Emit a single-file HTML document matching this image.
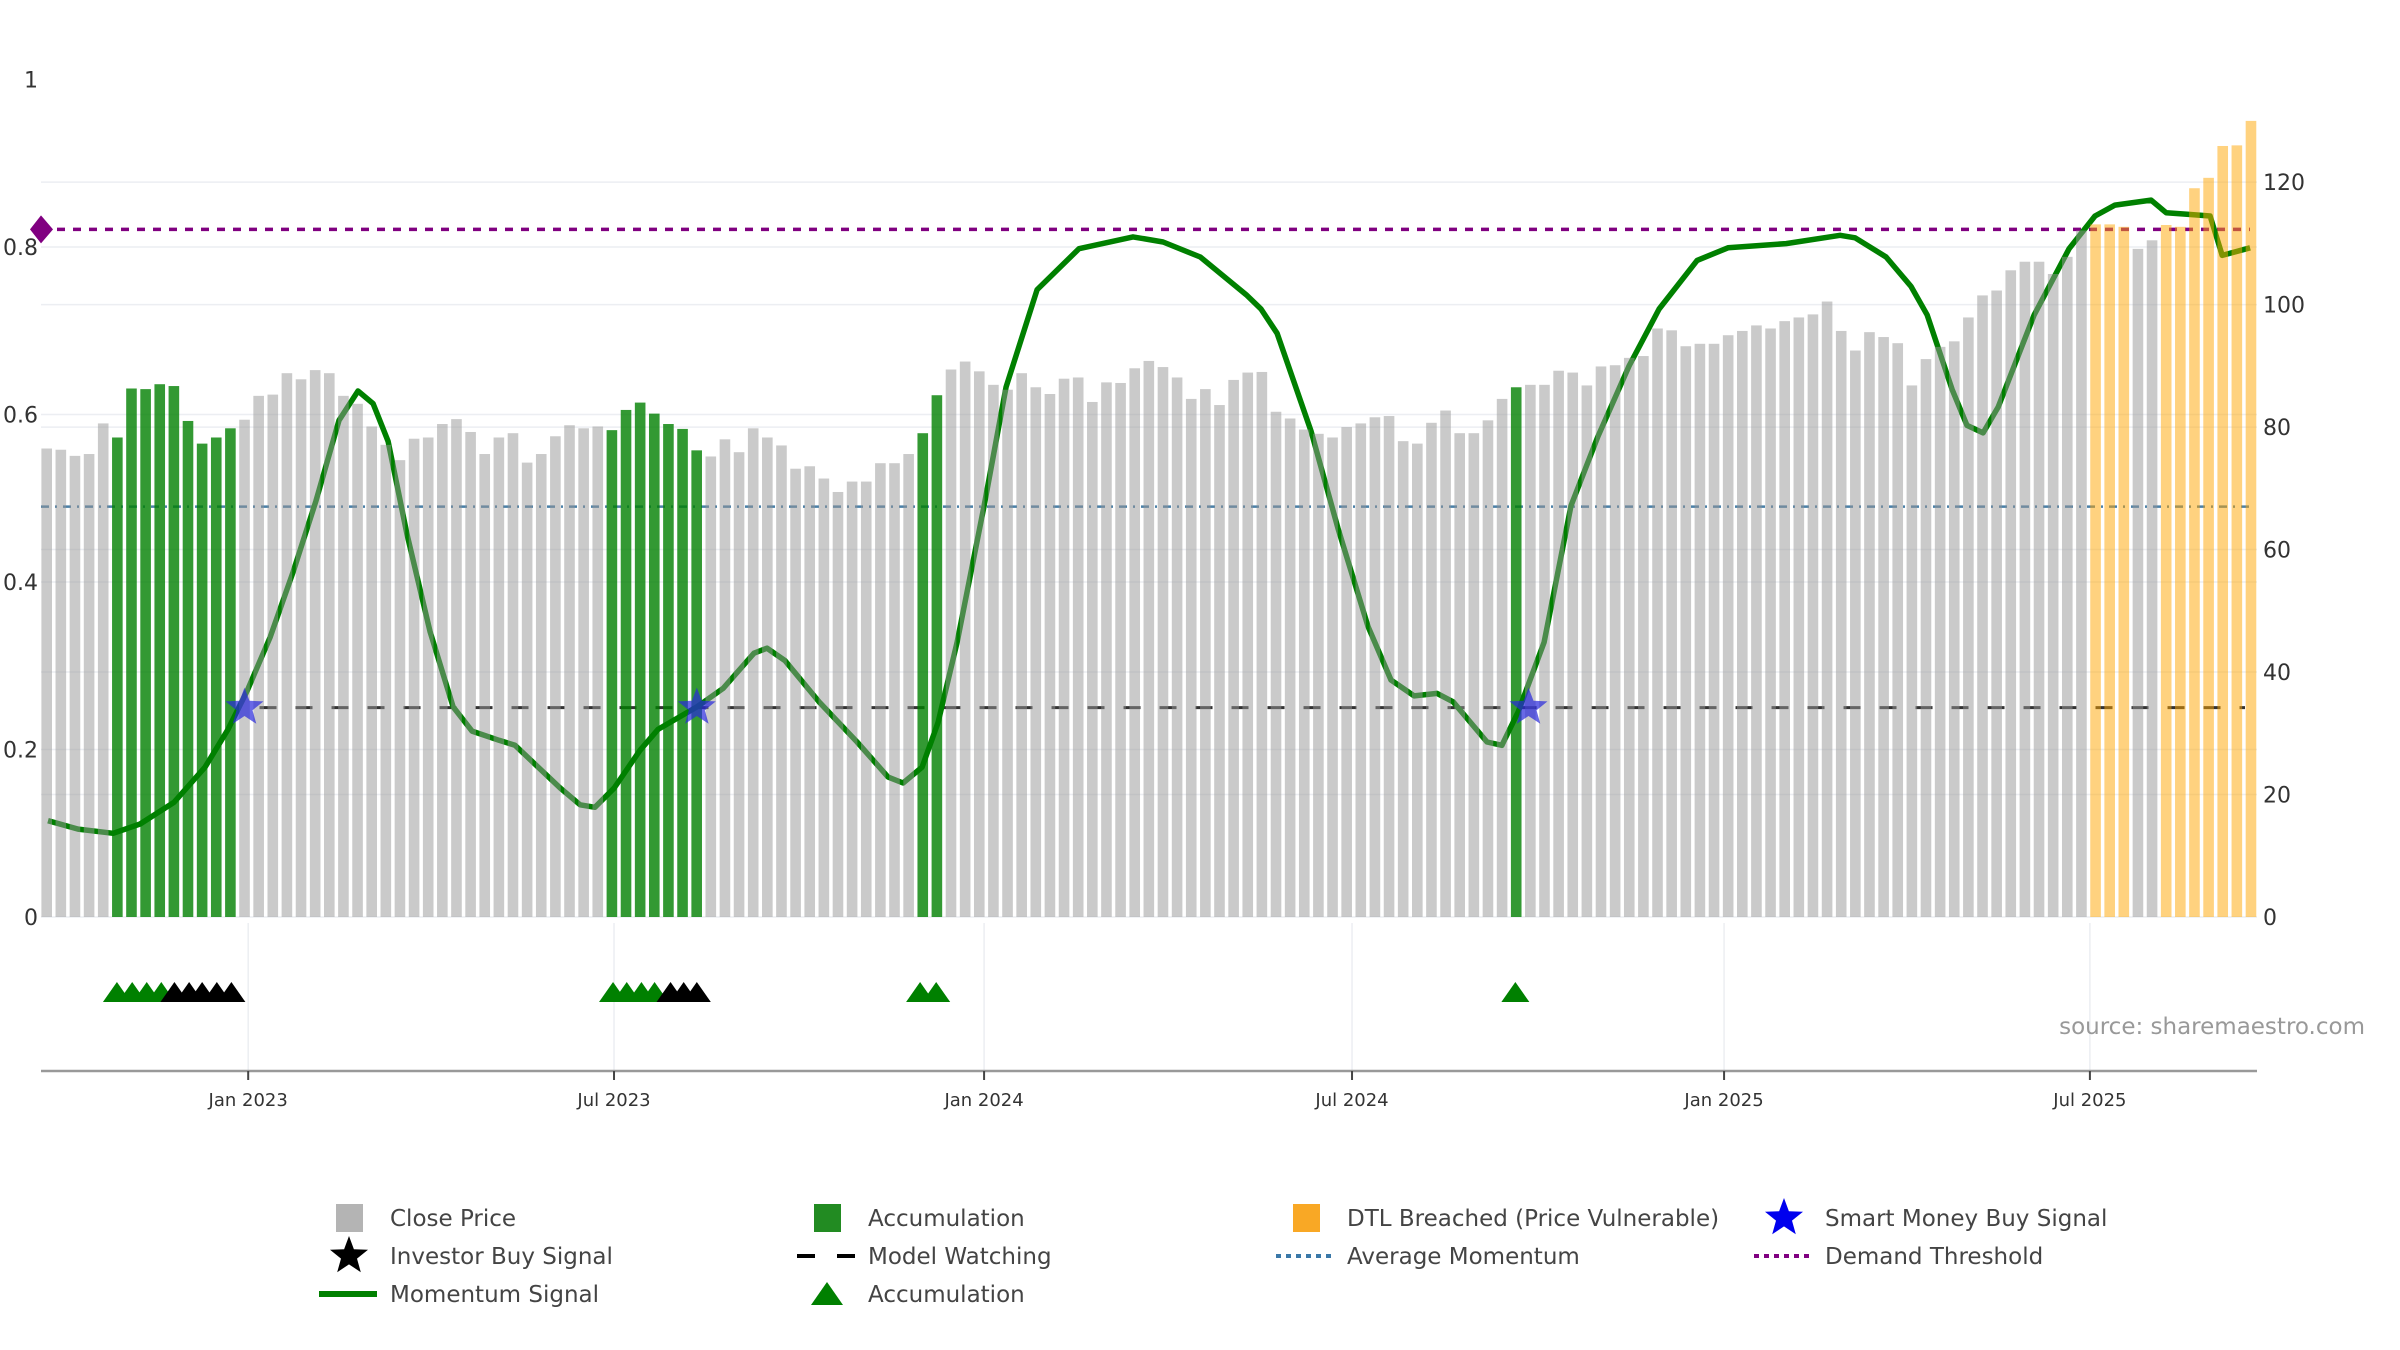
<!DOCTYPE html>
<html><head><meta charset="utf-8">
<style>
html,body{margin:0;padding:0;background:#fff;}
svg{display:block;font-family:"DejaVu Sans","Liberation Sans",sans-serif;}
</style></head>
<body>
<svg id="chart" width="2400" height="1350" viewBox="0 0 2400 1350" xmlns="http://www.w3.org/2000/svg">
<rect x="0" y="0" width="2400" height="1350" fill="#fff"/>
<g id="grid"></g><g id="lines"></g><g id="bars"></g><g id="marks"></g><g id="axes"></g>
<text x="2365" y="1034" text-anchor="end" font-size="23" fill="#999">source: sharemaestro.com</text>
<g id="legend"></g>
</svg>
<script>
const prices=[76.5,76.3,75.3,75.6,80.6,78.3,86.3,86.2,87,86.7,81,77.3,78.3,79.8,81.2,85.1,85.3,88.8,87.8,89.3,88.8,85.1,83.8,80.1,77.1,74.6,78.1,78.3,80.5,81.3,79.2,75.6,78.3,79,
74.2,75.6,78.5,80.3,79.8,80.1,79.5,82.8,84,82.2,80.5,79.7,76.2,75.2,78,75.9,79.8,78.3,77,73.2,73.6,71.6,69.4,71.1,71.1,74.1,74.1,75.6,79,85.2,89.4,90.7,89.1,
86.9,86.1,88.8,86.5,85.4,87.9,88.1,84.1,87.3,87.2,89.6,90.8,89.8,88.1,84.6,86.2,83.6,87.7,88.9,89,82.5,81.4,79.6,78.9,78.3,80,80.6,81.6,81.8,77.7,77.3,80.7,82.7,79,
79,81.1,84.6,86.5,86.9,86.9,89.2,88.9,86.8,89.9,90.1,91.3,91.6,96.1,95.8,93.2,93.6,93.6,95,95.7,96.6,96.1,97.3,97.9,98.4,100.5,95.7,92.5,95.5,94.7,93.7,86.8,91.1,
93.1,94,97.9,101.5,102.3,105.6,107,107,105,107.8,112.1,113.1,113.1,112.7,109.1,110.5,113,112.7,119,120.7,125.9,126,130];
const accumBars=[5,6,7,8,9,10,11,12,13,40,41,42,43,44,45,46,62,63,104];
const dtlBars=[145,146,147,150,151,152,153,154,155,156];
const momIdx=[0.09,2.22,4.7,6.61,9.01,11.21,12.83,14.18,15.81,17.44,19.06,20.69,22.03,23.1,24.16,25.5,27.13,28.76,30.1,32.02,33.14,34.78,36.34,37.75,38.8,40.16,41.99,43.26,46.03,47.87,50.06,50.98,52.26,54.66,57.35,59.55,60.61,61.95,63.08,64.43,66.34,67.9,70.09,73.06,76.88,79.01,81.64,84.89,85.94,87.08,89.48,91.39,93.51,95.14,96.77,98.4,99.53,101.93,102.99,104.14,105.97,107.88,109.79,111.99,114.11,116.8,118.99,123.1,126.92,127.98,130.18,131.94,133.08,134.85,135.9,137.04,138.11,140.66,143.13,144.96,146.38,148.93,149.99,151.48,153.11,153.96,155.94];
const momVal=[0.115,0.105,0.1,0.111,0.137,0.179,0.224,0.27,0.334,0.412,0.497,0.593,0.628,0.613,0.568,0.457,0.341,0.251,0.222,0.211,0.205,0.179,0.154,0.134,0.131,0.154,0.199,0.224,0.251,0.273,0.315,0.321,0.306,0.257,0.209,0.167,0.16,0.179,0.232,0.328,0.491,0.633,0.749,0.798,0.812,0.806,0.788,0.743,0.726,0.697,0.58,0.464,0.347,0.283,0.264,0.267,0.257,0.209,0.205,0.245,0.328,0.491,0.574,0.658,0.726,0.784,0.799,0.804,0.814,0.811,0.788,0.753,0.719,0.63,0.587,0.578,0.609,0.719,0.798,0.837,0.85,0.856,0.841,0.839,0.837,0.79,0.799];
const greenTri=[4.97,6.05,7.08,8.11,40.08,41.05,42.09,43.02,61.81,62.95,103.94];
const blackTri=[9.04,10.08,11.0,12.04,13.07,44.15,45.08,46.01];
const starIdx=[14.0,46.01,104.87];
const demandThreshold=0.821, avgMomentum=0.49, modelWatching=0.25;
const leftTicks=[0,0.2,0.4,0.6,0.8,1];
const leftTickLabels=["0","0.2","0.4","0.6","0.8","1"];
const rightTicks=[0,20,40,60,80,100,120];
const dateTickIdx=[14.26,40.15,66.34,92.38,118.71,144.6];
const dateTickLabels=["Jan 2023","Jul 2023","Jan 2024","Jul 2024","Jan 2025","Jul 2025"];

const NS="http://www.w3.org/2000/svg";
const X=i=>46.7+14.13*i;
const YL=p=>917-837.5*p;
const YR=v=>917-6.124*v;
function mk(tag,attrs,parent){const e=document.createElementNS(NS,tag);for(const k in attrs)e.setAttribute(k,attrs[k]);document.getElementById(parent).appendChild(e);return e;}
const L=41,R=2257;
leftTicks.forEach(t=>{if(t>0&&t<1){const g=mk('line',{x1:L,x2:R,y1:YL(t),y2:YL(t),stroke:'#eceef2','stroke-width':1.5},'grid');

}});
rightTicks.forEach(t=>{const g=mk('line',{x1:L,x2:R,y1:YR(t),y2:YR(t),stroke:'#eceef2','stroke-width':1.5},'grid');

});
dateTickIdx.forEach(t=>{const g=mk('line',{x1:X(t),x2:X(t),y1:923,y2:1071,stroke:'#eceef2','stroke-width':1.5},'grid');

});
let e=mk('line',{x1:L,x2:2250,y1:YL(demandThreshold),y2:YL(demandThreshold),stroke:'#800080','stroke-width':3.5,'stroke-dasharray':'8,8'},'lines');


e=mk('line',{x1:L,x2:2250,y1:YL(avgMomentum),y2:YL(avgMomentum),stroke:'#4a80a8','stroke-width':2.5,'stroke-dasharray':'8,6,2,6'},'lines');


e=mk('line',{x1:X(starIdx[0])+15,x2:2245,y1:YL(modelWatching),y2:YL(modelWatching),stroke:'#333','stroke-width':3,'stroke-dasharray':'17,19'},'lines');


let d=momIdx.map((t,k)=>(k?'L':'M')+X(t).toFixed(1)+','+YL(momVal[k]).toFixed(1)).join(' ');
e=mk('path',{d:d,fill:'none',stroke:'#008000','stroke-width':5.5,'stroke-linejoin':'round'},'lines');


prices.forEach((v,i)=>{let c='rgba(150,150,150,0.5)',n='close-price-bar';
if(accumBars.includes(i)){c='rgba(0,128,0,0.8)';n='accumulation-bar';}
else if(dtlBars.includes(i)){c='rgba(255,165,0,0.5)';n='dtl-breached-bar';}
const b=mk('rect',{x:X(i)-5.3,y:YR(v),width:10.6,height:YR(0)-YR(v),fill:c},'bars');

});
const dy=YL(demandThreshold);
e=mk('path',{d:`M${L-11},${dy} L${L},${dy-14} L${L+12},${dy} L${L},${dy+14} Z`,fill:'#800080'},'marks');


function starPath(cx,cy,r){let s='';for(let k=0;k<10;k++){const rr=k%2?r*0.42:r;const a=-Math.PI/2+k*Math.PI/5;s+=(k?'L':'M')+(cx+rr*Math.cos(a)).toFixed(1)+','+(cy+rr*Math.sin(a)).toFixed(1);}return s+'Z';}
starIdx.forEach(t=>{const s=mk('path',{d:starPath(X(t),YL(modelWatching),20),fill:'rgba(40,40,220,0.7)'},'marks');

});
function tri(t,col,nm){const x=X(t);const s=mk('path',{d:`M${x-14},1002 L${x},982 L${x+14},1002 Z`,fill:col},'marks');

}
greenTri.forEach(t=>tri(t,'#008000','accumulation-triangle'));
blackTri.forEach(t=>tri(t,'#000','investor-buy-triangle'));
e=mk('line',{x1:L,x2:R,y1:1071,y2:1071,stroke:'#999','stroke-width':2.5},'axes');


dateTickIdx.forEach((t,k)=>{const tk=mk('line',{x1:X(t),x2:X(t),y1:1071,y2:1080,stroke:'#444','stroke-width':2},'axes');


const tx=mk('text',{x:X(t),y:1106,'text-anchor':'middle','font-size':18,fill:'#333'},'axes');tx.textContent=dateTickLabels[k];

});
leftTicks.forEach((t,k)=>{const tx=mk('text',{x:38,y:YL(t)+8,'text-anchor':'end','font-size':22,fill:'#333'},'axes');tx.textContent=leftTickLabels[k];

});
rightTicks.forEach(t=>{const tx=mk('text',{x:2263,y:YR(t)+8,'font-size':22,fill:'#333'},'axes');tx.textContent=String(t);

});
const legRows=[1226,1264,1302];
const legCols=[349,827,1306,1784];
const legItems=[["Close Price",0,0,'sq','#b4b4b4'],["Accumulation",1,0,'sq','#228b22'],["DTL Breached (Price Vulnerable)",2,0,'sq','#f9a825'],["Smart Money Buy Signal",3,0,'star','#0000ee'],
["Investor Buy Signal",0,1,'star','#000'],["Model Watching",1,1,'dash','#000'],["Average Momentum",2,1,'dot','#3a78a8'],["Demand Threshold",3,1,'dotp','#800080'],
["Momentum Signal",0,2,'line','#008000'],["Accumulation",1,2,'tri','#008000']];
legItems.forEach(it=>{const cx=legCols[it[1]],cy=legRows[it[2]]-8;let m;
if(it[3]=='sq')m=mk('rect',{x:cx-13,y:cy-14,width:27,height:28,fill:it[4]},'legend');
else if(it[3]=='star')m=mk('path',{d:starPath(cx,cy,20),fill:it[4]},'legend');
else if(it[3]=='line')m=mk('line',{x1:cx-30,x2:cx+28,y1:cy,y2:cy,stroke:it[4],'stroke-width':6},'legend');
else if(it[3]=='tri')m=mk('path',{d:`M${cx-16},${cy+11} L${cx},${cy-12} L${cx+16},${cy+11} Z`,fill:it[4]},'legend');
else if(it[3]=='dash')m=mk('line',{x1:cx-30,x2:cx+28,y1:cy,y2:cy,stroke:it[4],'stroke-width':4,'stroke-dasharray':'18,22'},'legend');
else m=mk('line',{x1:cx-30,x2:cx+28,y1:cy,y2:cy,stroke:it[4],'stroke-width':4,'stroke-dasharray':'5,5'},'legend');


const tx=mk('text',{x:cx+41,y:legRows[it[2]],'font-size':23,fill:'#444'},'legend');tx.textContent=it[0];

});
</script>
</body></html>
